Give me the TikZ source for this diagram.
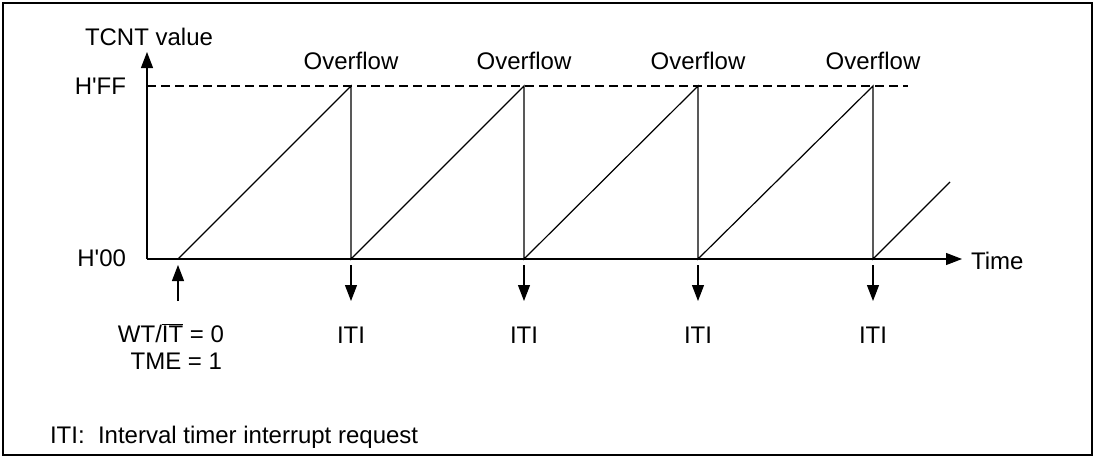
\documentclass[tikz,border=0pt]{standalone}
\usepackage{fontspec}
\setmainfont{Liberation Sans}
\usetikzlibrary{arrows.meta}
\begin{document}
\begin{tikzpicture}[x=1pt,y=-1pt,
  every node/.style={inner sep=0pt,outer sep=0pt,font=\fontsize{24}{28}\selectfont},
  ln/.style={line width=1.2pt},
  arr/.style={ln,-{Triangle[width=12pt,length=16pt]}},
  lbl/.style={anchor=base}]
\useasboundingbox (0,0) rectangle (1096,458);
\draw[line width=1.6pt] (3,3) rectangle (1092,455);
% axes
\coordinate (O) at (147,259);
\coordinate (Ytop) at (147,52);
\coordinate (Xend) at (962,259);
\coordinate (FFend) at (908,86);
\coordinate (FFstart) at (147,86);
\draw[arr] (O) -- (Ytop);
\draw[arr] (O) -- (Xend);
\draw[ln,dash pattern=on 9pt off 5pt] (FFstart) -- (FFend);
\node[anchor=base west] (tcnt) at (85,45) {TCNT value};
\node[anchor=east] (hff) at (126,86) {H\textquotesingle FF};
\node[anchor=east] (h00) at (126,258) {H\textquotesingle 00};
\node[anchor=west] (time) at (971,261) {Time};
% ramps
\coordinate (S0) at (178,259);
\foreach \i/\x in {1/351,2/524,3/698,4/873}{
  \coordinate (P\i) at (\x,86);
  \coordinate (B\i) at (\x,259);
  \coordinate (A\i) at (\x,265);
  \coordinate (T\i) at (\x,301);
  \node[lbl] (ov\i) at (\x,69) {Overflow};
  \node[lbl] (iti\i) at (\x,343) {ITI};
  \draw[arr] (A\i) -- (T\i);
}
\coordinate (Eend) at (950,182);
\draw[ln] (S0) -- (P1) -- (B1) -- (P2) -- (B2) -- (P3) -- (B3) -- (P4) -- (B4) -- (Eend);
% start arrow
\coordinate (Ut) at (178,301);
\coordinate (Uh) at (178,265);
\draw[arr] (Ut) -- (Uh);
\node[anchor=base east] (wt) at (224,342) {WT/\ensuremath{\overline{\mbox{IT}}} = 0};
\node[anchor=base east] (tme) at (222,369) {TME = 1};
\node[anchor=base west] (note) at (50,443) {ITI:\ \ Interval timer interrupt request};
\end{tikzpicture}
\end{document}
